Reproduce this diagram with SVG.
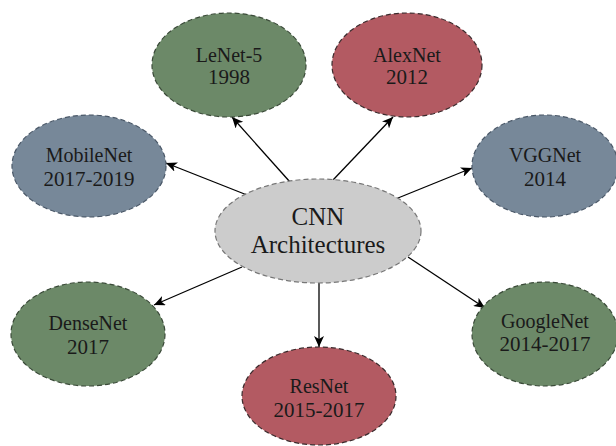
<svg xmlns="http://www.w3.org/2000/svg" width="616" height="446" viewBox="0 0 616 446">
<style>
.n{stroke-width:1.2;stroke-dasharray:5 3}
.g{fill:#6c8968;stroke:#3a4a38}
.r{fill:#b35a62;stroke:#3a2a2c}
.b{fill:#778899;stroke:#4a5868}
.c{fill:#cccccc;stroke:#777777}
text{font-family:"Liberation Serif","Times New Roman",serif;fill:#1a1a1a;text-anchor:middle}
.t1{font-size:20px}
.t2{font-size:21px}
.tc{font-size:25px}
.e{stroke:#000;stroke-width:1.3;fill:none;marker-end:url(#ah)}
</style>
<defs>
<marker id="ah" markerWidth="12" markerHeight="10" refX="11" refY="5" orient="auto" markerUnits="userSpaceOnUse">
<path d="M0,0 L11,5 L0,10 L3,5 z" fill="#000"/>
</marker>
</defs>
<g id="connectors">
<line class="e" x1="290" y1="182" x2="232" y2="117"/>
<line class="e" x1="333" y1="180" x2="393" y2="117"/>
<line class="e" x1="247" y1="195" x2="166" y2="163"/>
<line class="e" x1="398" y1="198" x2="472" y2="168"/>
<line class="e" x1="242" y1="267" x2="154" y2="305"/>
<line class="e" x1="319" y1="283" x2="319" y2="347"/>
<line class="e" x1="408" y1="257" x2="485" y2="308"/>
</g>
<g id="cnn">
<ellipse class="n c" cx="318" cy="231" rx="103" ry="52"/>
<text class="tc" x="318" y="225">CNN</text>
<text class="tc" x="318" y="253">Architectures</text>
</g>
<g id="lenet">
<ellipse class="n g" cx="229" cy="65" rx="77" ry="52"/>
<text class="t1" x="229" y="62">LeNet-5</text>
<text class="t2" x="229" y="84">1998</text>
</g>
<g id="alexnet">
<ellipse class="n r" cx="407" cy="65" rx="75" ry="52"/>
<text class="t1" x="407" y="62">AlexNet</text>
<text class="t2" x="407" y="84">2012</text>
</g>
<g id="mobilenet">
<ellipse class="n b" cx="89" cy="166" rx="77" ry="51"/>
<text class="t1" x="89" y="162">MobileNet</text>
<text class="t2" x="89" y="186">2017-2019</text>
</g>
<g id="vggnet">
<ellipse class="n b" cx="545" cy="166" rx="73" ry="51"/>
<text class="t1" x="545" y="162">VGGNet</text>
<text class="t2" x="545" y="186">2014</text>
</g>
<g id="densenet">
<ellipse class="n g" cx="88" cy="334" rx="77" ry="52"/>
<text class="t1" x="88" y="330">DenseNet</text>
<text class="t2" x="88" y="354">2017</text>
</g>
<g id="resnet">
<ellipse class="n r" cx="319" cy="396" rx="77" ry="49"/>
<text class="t1" x="319" y="393">ResNet</text>
<text class="t2" x="319" y="417">2015-2017</text>
</g>
<g id="googlenet">
<ellipse class="n g" cx="545" cy="334" rx="73" ry="52"/>
<text class="t1" x="545" y="328">GoogleNet</text>
<text class="t2" x="545" y="351">2014-2017</text>
</g>
</svg>
